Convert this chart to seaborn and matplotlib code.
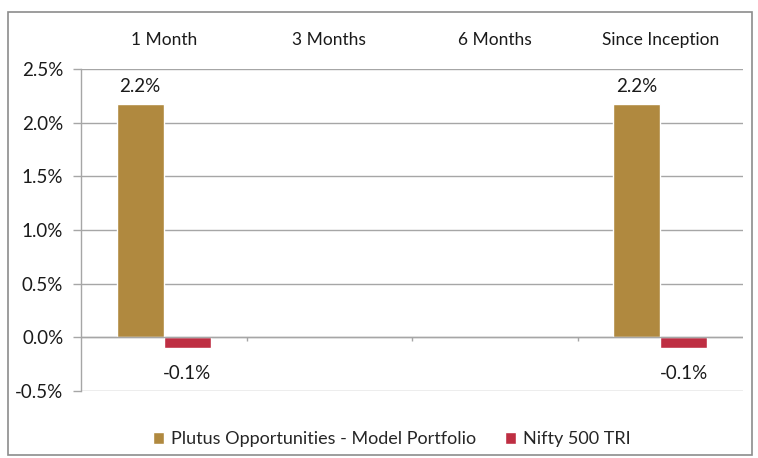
import matplotlib
matplotlib.use("Agg")
import matplotlib.pyplot as plt
import seaborn as sns
import pandas as pd
import numpy as np
from matplotlib.patches import Rectangle
from matplotlib.ticker import FuncFormatter

categories = ["1 Month", "3 Months", "6 Months", "Since Inception"]
series = ["Plutus Opportunities - Model Portfolio", "Nifty 500 TRI"]
plutus = [2.17, np.nan, np.nan, 2.17]
nifty = [-0.1, np.nan, np.nan, -0.1]
colors = ["#B0893F", "#BE2E42"]

df = pd.DataFrame({
    "Period": categories * 2,
    "Series": [series[0]] * 4 + [series[1]] * 4,
    "Return": plutus + nifty,
})

sns.set_theme(style="white")
plt.rcParams["font.family"] = ["Lato", "DejaVu Sans"]

fig = plt.figure(figsize=(7.58, 4.58), dpi=100)
ax = fig.add_axes([0.1069, 0.1463, 0.8734, 0.703])

sns.barplot(data=df, x="Period", y="Return", hue="Series", order=categories,
            hue_order=series, palette=colors, width=0.57, saturation=1,
            ax=ax, legend=True)

ax.set_ylim(-0.5, 2.5)
ax.set_yticks(np.arange(-0.5, 2.51, 0.5))
ax.yaxis.set_major_formatter(FuncFormatter(lambda v, p: f"{v:.1f}%"))
ax.grid(axis="y", color="#A6A6A6", linewidth=1)
ax.set_axisbelow(True)
ax.axhline(0, color="#A6A6A6", linewidth=1, zorder=1)
ax.vlines([0.5, 1.5, 2.5], 0, -0.033, color="#A6A6A6", linewidth=1)
ax.set_xlim(-0.5, 3.5)

ax.xaxis.tick_top()
ax.tick_params(axis="x", length=0, pad=15, labelsize=12.5, colors="#1a1a1a")
ax.tick_params(axis="y", left=True, length=5.8, width=1, color="#A6A6A6", labelsize=13.5,
               labelcolor="#1a1a1a", pad=7)
ax.set_xlabel("")
ax.set_ylabel("")
for s in ["top", "right", "bottom"]:
    ax.spines[s].set_visible(False)
ax.spines["left"].set_color("#A6A6A6")
ax.spines["left"].set_linewidth(1)

for cont in ax.containers:
    labels = []
    for v in cont.datavalues:
        labels.append("" if np.isnan(v) else f"{v:.1f}%")
    neg = any((not np.isnan(v)) and v < 0 for v in cont.datavalues)
    ax.bar_label(cont, labels=labels, padding=12 if neg else 7, fontsize=13.5, color="#1a1a1a")

ax.legend(loc="upper center", bbox_to_anchor=(0.47, -0.075), ncol=2, frameon=False,
          fontsize=13, handlelength=0.6, handleheight=0.6, handletextpad=0.4,
          columnspacing=1.6)

fig.patches.append(Rectangle((8 / 758, 3 / 458), 744 / 758, 443 / 458, transform=fig.transFigure,
                             fill=False, edgecolor="#8C8C8C", linewidth=1.2))

fig.savefig("out.png", dpi=100)
